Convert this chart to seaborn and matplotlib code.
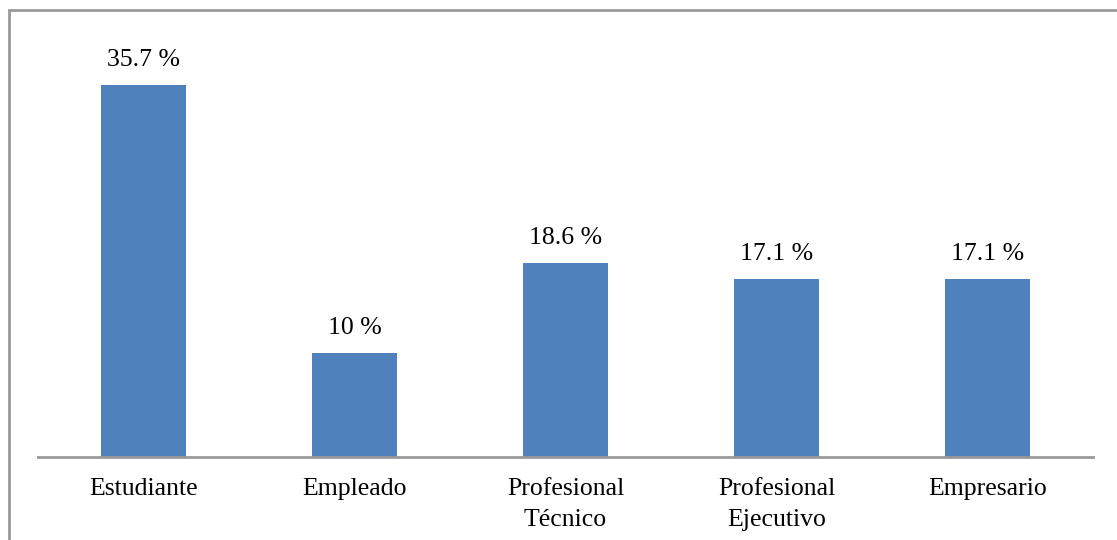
import matplotlib
matplotlib.use("Agg")
import matplotlib.pyplot as plt
import matplotlib.patches as mpatches
import seaborn as sns
import pandas as pd

categories = ["Estudiante", "Empleado", "Profesional\nTécnico", "Profesional\nEjecutivo", "Empresario"]
values = [35.7, 10, 18.6, 17.1, 17.1]
value_labels = ["35.7 %", "10 %", "18.6 %", "17.1 %", "17.1 %"]

sns.set_theme(style="white")
plt.rcParams["font.family"] = ["Liberation Serif", "DejaVu Serif"]

df = pd.DataFrame({"cat": categories, "val": values})

fig = plt.figure(figsize=(11.17, 5.40), dpi=100)
ax = fig.add_axes([38 / 1117, 1 - 457 / 540, (1093 - 38) / 1117, 417 / 540])
sns.barplot(data=df, x="cat", y="val", color="#4F81BD", saturation=1, width=0.4,
            linewidth=0, ax=ax)

ax.set_ylim(0, 40)
ax.set_xlim(-0.5, 4.5)
ax.set_xlabel("")
ax.set_ylabel("")
ax.set_yticks([])
for s in ["top", "right", "left"]:
    ax.spines[s].set_visible(False)
ax.spines["bottom"].set_color("#999999")
ax.spines["bottom"].set_linewidth(2)
ax.tick_params(axis="x", length=0, pad=15, labelsize=18.5, colors="black")
for lab in ax.get_xticklabels():
    lab.set_linespacing(1.55)

for i, (v, t) in enumerate(zip(values, value_labels)):
    ax.annotate(t, (i, v), xytext=(0, 10), textcoords="offset points",
                ha="center", va="bottom", fontsize=18.5, color="black")

frame = mpatches.Rectangle((9 / 1117, -0.1), 1.2, 1 - 10 / 540 + 0.1,
                           transform=fig.transFigure, fill=False,
                           edgecolor="#999999", linewidth=2)
fig.patches.append(frame)

fig.savefig("out.png", dpi=100)
